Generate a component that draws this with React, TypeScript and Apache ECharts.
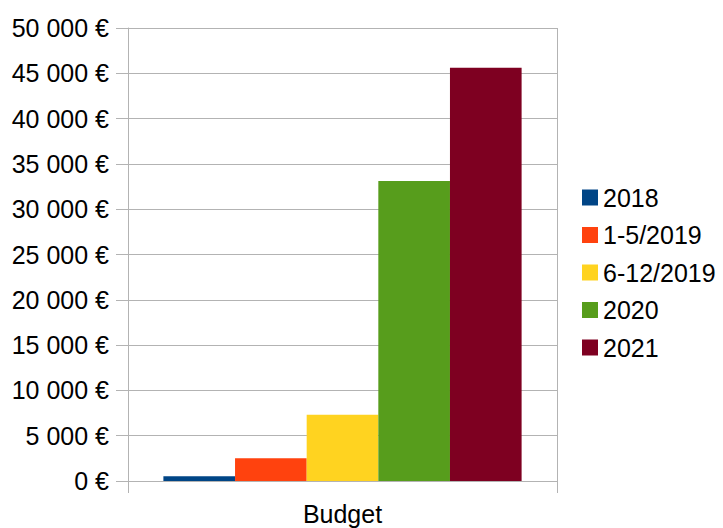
import React, { useEffect, useRef } from "react";
import * as echarts from "echarts";

const categories = ["Budget"];
const seriesNames = ["2018", "1-5/2019", "6-12/2019", "2020", "2021"];
const seriesValues = [520, 2500, 7300, 33100, 45600];
const seriesColors = ["#004586", "#ff420e", "#ffd320", "#579d1c", "#7e0021"];

const fmt = (v: number) =>
  String(v).replace(/\B(?=(\d{3})+(?!\d))/g, " ") + " €";

export default function App() {
  const ref = useRef<HTMLDivElement>(null);
  useEffect(() => {
    if (!ref.current) return;
    const chart = echarts.init(ref.current, null, { renderer: "svg" });
    const font = "Liberation Sans";
    const gray = "#b3b3b3";
    chart.setOption({
      animation: false,
      backgroundColor: "#ffffff",
      textStyle: { fontFamily: font, color: "#000" },
      grid: { left: 128, right: 166, top: 28, bottom: 47, containLabel: false },
      legend: {
        orient: "vertical",
        left: 582,
        top: 185,
        padding: 0,
        itemWidth: 16,
        itemHeight: 16,
        itemGap: 12.5,
        icon: "rect",
        textStyle: { fontFamily: font, fontSize: 25, color: "#000", lineHeight: 25 },
        data: seriesNames,
      },
      xAxis: {
        type: "category",
        data: categories,
        axisLine: { show: true, lineStyle: { color: gray } },
        axisTick: { show: true, length: 12, lineStyle: { color: gray } },
        splitLine: { show: true, lineStyle: { color: gray } },
        axisLabel: { fontFamily: font, fontSize: 25, color: "#000", margin: 20 },
      },
      yAxis: {
        type: "value",
        min: 0,
        max: 50000,
        interval: 5000,
        axisLine: { show: true, lineStyle: { color: gray } },
        axisTick: { show: true, length: 12, lineStyle: { color: gray } },
        splitLine: { show: true, lineStyle: { color: gray } },
        axisLabel: {
          fontFamily: font,
          fontSize: 25,
          color: "#000",
          margin: 19,
          formatter: (v: number) => fmt(v),
        },
      },
      series: seriesNames.map((name, i) => ({
        name,
        type: "bar",
        data: [seriesValues[i]],
        itemStyle: { color: seriesColors[i] },
        barGap: "0%",
        barCategoryGap: "16.5%",
      })),
    });
    return () => chart.dispose();
  }, []);
  return (
    <div
      ref={ref}
      style={{ position: "fixed", left: 0, top: 0, width: 723, height: 528, background: "#fff" }}
    />
  );
}
